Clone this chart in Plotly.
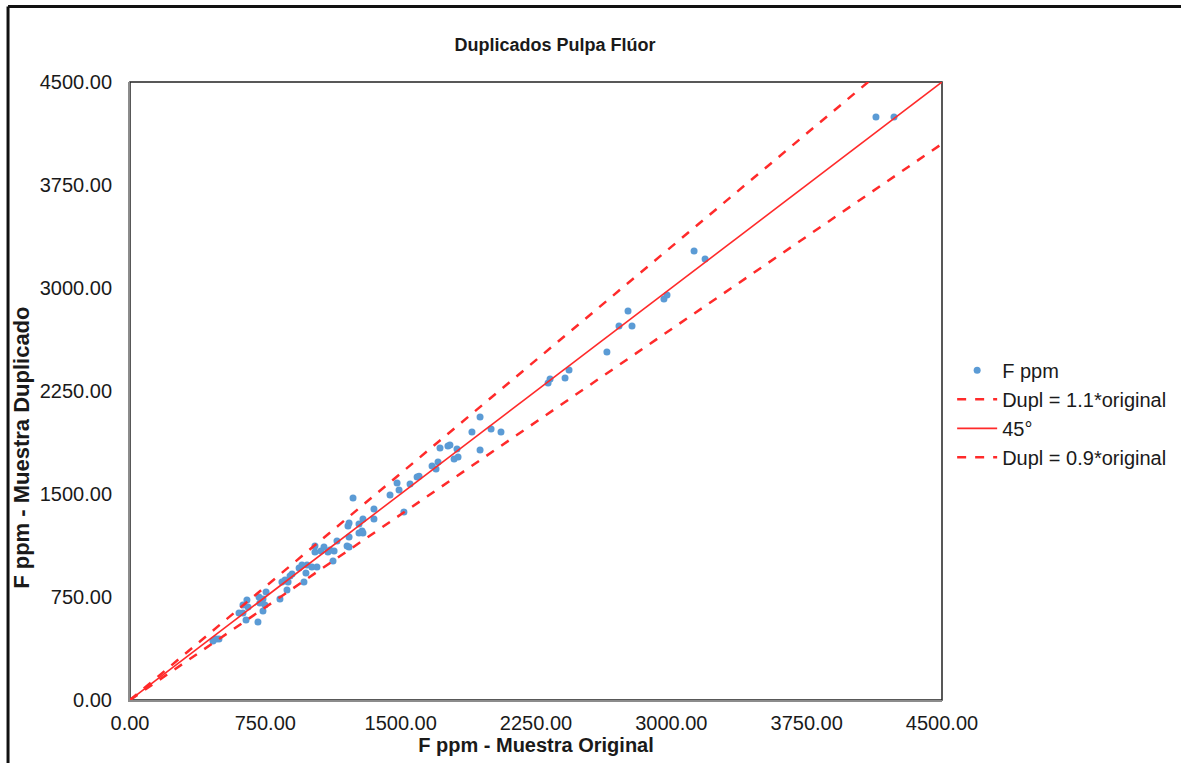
import plotly.graph_objects as go

# F ppm - Muestra Original (x) vs Muestra Duplicado (y)
orig = [4234, 4134, 3126, 3187, 2959, 2976, 2760, 2710, 2782, 2643,
        2433, 2411, 2328, 2317, 1940, 1895, 2001, 2056, 1940, 1718,
        1762, 1773, 1812, 1796, 1818, 1707, 1674, 1696, 1591, 1602,
        1552, 1480, 1491, 1441, 1236, 1352, 1518, 1352, 1291, 1269,
        1214, 1208, 1286, 1291, 1269, 1214, 1147, 1214, 1203, 1131,
        1108, 1097, 1058, 1025, 1025, 1075, 1125, 1036, 1008, 981,
        953, 937, 975, 898, 887, 859, 842, 876, 964, 870,
        831, 754, 715, 737, 720, 748, 737, 654, 626, 648,
        626, 604, 643, 709, 477, 460, 493]
dupl = [4245, 4245, 3269, 3211, 2920, 2949, 2833, 2723, 2723, 2534,
        2403, 2345, 2337, 2308, 2061, 1951, 1973, 1951, 1820, 1835,
        1850, 1857, 1828, 1755, 1769, 1733, 1704, 1682, 1624, 1630,
        1573, 1580, 1529, 1493, 1471, 1391, 1369, 1318, 1318, 1282,
        1289, 1267, 1231, 1216, 1216, 1187, 1158, 1114, 1121, 1085,
        1092, 1078, 1085, 1121, 1078, 1114, 1012, 968, 968, 983,
        983, 961, 925, 917, 903, 874, 859, 859, 859, 801,
        735, 786, 750, 735, 706, 692, 648, 677, 692, 728,
        634, 634, 583, 568, 444, 430, 444]

# Reference lines (end points)
line_x = [0, 4500]
hi_y = [0, 4950]    # Dupl = 1.1*original
deg45_y = [0, 4500]  # 45°
lo_y = [0, 4050]    # Dupl = 0.9*original

tick_vals = [0, 750, 1500, 2250, 3000, 3750, 4500]

FONT = "Liberation Sans, Arial, sans-serif"
RED = "#FF2A2A"
TXT = "#1a1a1a"

fig = go.Figure()
fig.add_trace(go.Scatter(x=orig, y=dupl, mode="markers", name="F ppm",
                         marker=dict(color="#5B9BD5", size=7)))
fig.add_trace(go.Scatter(x=line_x, y=hi_y, mode="lines", name="Dupl = 1.1*original",
                         line=dict(color=RED, width=2.5, dash="dash")))
fig.add_trace(go.Scatter(x=line_x, y=deg45_y, mode="lines", name="45°",
                         line=dict(color=RED, width=1.6)))
fig.add_trace(go.Scatter(x=line_x, y=lo_y, mode="lines", name="Dupl = 0.9*original",
                         line=dict(color=RED, width=2.5, dash="dash")))

axis_common = dict(range=[0, 4500], tickvals=tick_vals, tickformat=".2f",
                   showgrid=False, zeroline=False, showline=True,
                   linecolor="#8C8C8C", linewidth=2, ticks="",
                   tickfont=dict(family=FONT, size=20, color=TXT))

fig.update_layout(
    width=1181, height=763,
    margin=dict(l=130, r=239, t=82, b=63, autoexpand=False),
    paper_bgcolor="white", plot_bgcolor="white",
    title=dict(text="<b>Duplicados Pulpa Flúor</b>", x=0.47, xanchor="center",
               y=0.942, yanchor="middle",
               font=dict(family=FONT, size=18, color=TXT)),
    xaxis=dict(**axis_common, ticklabelstandoff=4,
               title=dict(text="<b>F ppm - Muestra Original</b>", standoff=2,
                          font=dict(family=FONT, size=20, color=TXT))),
    yaxis=dict(**axis_common, ticklabelstandoff=12),
    legend=dict(x=1.0125, xanchor="left", y=0.463, yanchor="middle",
                font=dict(family=FONT, size=20, color=TXT),
                tracegroupgap=0, itemwidth=40, bgcolor="rgba(0,0,0,0)"),
    showlegend=True,
    annotations=[
        dict(text="<b>F ppm - Muestra Duplicado</b>", xref="paper", yref="paper",
             x=-0.133, y=0.408, xanchor="center", yanchor="middle", textangle=-90,
             showarrow=False, font=dict(family=FONT, size=22, color=TXT)),
    ],
    shapes=[
        # plot area black frame (top/right)
        dict(type="rect", xref="paper", yref="paper", x0=0, y0=0, x1=1, y1=1,
             line=dict(color="#222222", width=1.5), layer="below"),
        # outer chart frame: top and left edges
        dict(type="line", xref="paper", yref="paper", x0=-0.1502, y0=1.122,
             x1=1.3, y1=1.122, line=dict(color="#111111", width=3)),
        dict(type="line", xref="paper", yref="paper", x0=-0.1502, y0=1.122,
             x1=-0.1502, y1=-0.11, line=dict(color="#111111", width=3)),
    ],
)

fig.write_html("out.html")
